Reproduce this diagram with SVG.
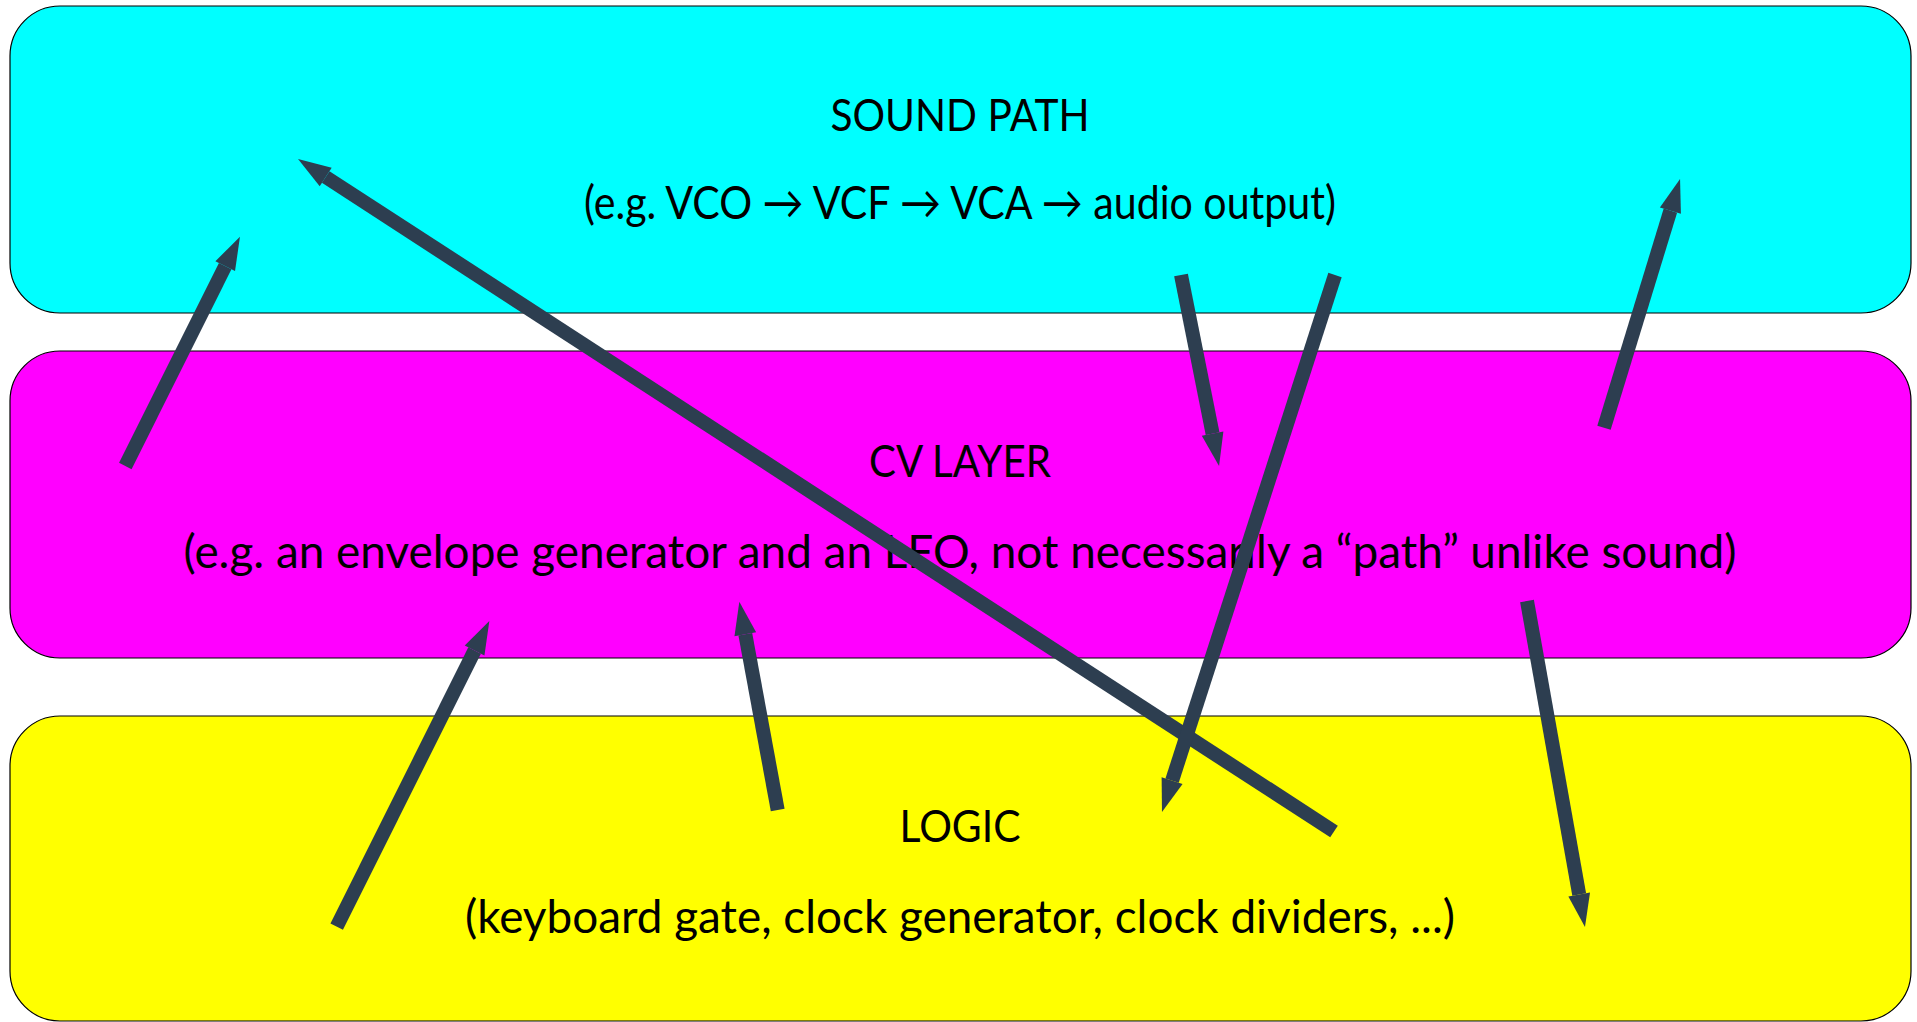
<svg xmlns="http://www.w3.org/2000/svg" width="1917" height="1022" viewBox="0 0 1917 1022">
  <style>
    .box { stroke: #000; stroke-width: 1.2; }
    .title { font-family: Lato, "Liberation Sans", sans-serif; font-size: 44px; fill: #000; text-anchor: middle; }
    .sub { font-family: Lato, "Liberation Sans", sans-serif; font-size: 46px; fill: #000; text-anchor: middle; }
    .conn { stroke: #2d3e50; stroke-width: 14; stroke-linecap: butt; fill: none; marker-end: url(#head); }
  </style>
  <defs>
    <marker id="head" markerUnits="userSpaceOnUse" markerWidth="40" markerHeight="30" refX="0" refY="0" orient="auto" viewBox="0 -15 40 30" overflow="visible">
      <path d="M0,-11 L33,0 L0,11 z" fill="#2d3e50"/>
    </marker>
  </defs>
  <rect width="1917" height="1022" fill="#fff"/>

  <g id="sound-path">
    <rect class="box" x="10" y="6" width="1901" height="307" rx="50" ry="50" fill="#00ffff"/>
    <text class="title" x="960" y="131" textLength="259" lengthAdjust="spacingAndGlyphs">SOUND PATH</text>
    <text class="sub" x="960" y="219" textLength="752" lengthAdjust="spacingAndGlyphs">(e.g. VCO → VCF → VCA → audio output)</text>
  </g>

  <g id="cv-layer">
    <rect class="box" x="10" y="351" width="1901" height="307" rx="50" ry="50" fill="#ff00ff"/>
    <text class="title" x="960" y="477" textLength="182" lengthAdjust="spacingAndGlyphs">CV LAYER</text>
    <text class="sub" x="960" y="568" textLength="1553" lengthAdjust="spacingAndGlyphs">(e.g. an envelope generator and an LFO, not necessarily a “path” unlike sound)</text>
  </g>

  <g id="logic">
    <rect class="box" x="10" y="716" width="1901" height="305" rx="50" ry="50" fill="#ffff00"/>
    <text class="title" x="960" y="842" textLength="121" lengthAdjust="spacingAndGlyphs">LOGIC</text>
    <text class="sub" x="960" y="933" textLength="990" lengthAdjust="spacingAndGlyphs">(keyboard gate, clock generator, clock dividers, ...)</text>
  </g>

  <g id="connectors">
    <line class="conn" x1="125.3" y1="466" x2="225.2" y2="266.2"/>
    <line class="conn" x1="1334" y1="831.5" x2="325.7" y2="177"/>
    <line class="conn" x1="1181" y1="275" x2="1212.6" y2="433.6"/>
    <line class="conn" x1="1335" y1="275" x2="1172.1" y2="780.6"/>
    <line class="conn" x1="1604" y1="427.7" x2="1670.4" y2="210.6"/>
    <line class="conn" x1="1527" y1="601" x2="1579.2" y2="894.5"/>
    <line class="conn" x1="336.7" y1="926.7" x2="474.6" y2="650.5"/>
    <line class="conn" x1="777.7" y1="810" x2="745.3" y2="634.2"/>
  </g>
</svg>
